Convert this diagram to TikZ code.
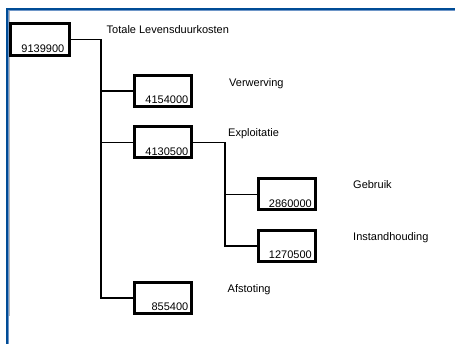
\documentclass[tikz,border=0pt]{standalone}
\usepackage{fontspec}
\setmainfont{Liberation Sans}
\definecolor{frameblue}{RGB}{0,76,150}
\definecolor{framelight}{RGB}{110,150,200}
\begin{document}
\begin{tikzpicture}[x=1pt,y=-1pt,
  font=\fontsize{11}{13}\selectfont,
  costbox/.style={draw=black, line width=3pt, fill=white,
    minimum width=57pt, minimum height=31pt, inner sep=0pt},
  conn/.style={draw=black, line width=1.6pt},
  caption/.style={anchor=base west, inner sep=0pt},
  amount/.style={anchor=base east, inner sep=0pt, xshift=-4.5pt, yshift=4pt}]
\useasboundingbox (0,0) rectangle (455,344);

% page frame
\draw[line width=2pt, frameblue] (7,344) -- (7,9) -- (455,9);
\draw[line width=0.8pt, framelight] (8.6,344) -- (8.6,10.6) -- (455,10.6);
\draw[line width=0.8pt, gray!55] (9.6,316) -- (9.6,11.4);

% cost boxes
\node[costbox, minimum width=59pt, minimum height=32pt] (root) at (40,39.5) {};
\node[costbox] (verw) at (163,91)    {};
\node[costbox] (expl) at (163,142.5) {};
\node[costbox] (gebr) at (286.5,194.5) {};
\node[costbox] (inst) at (286.5,246)   {};
\node[costbox] (afst) at (163,298)   {};

% amounts in the lower right of each box
\node[amount, xshift=-2pt] at (root.south east) {9139900};
\node[amount] at (verw.south east) {4154000};
\node[amount] at (expl.south east) {4130500};
\node[amount] at (gebr.south east) {2860000};
\node[amount] at (inst.south east) {1270500};
\node[amount] at (afst.south east) {855400};

% tree connectors
\coordinate (t1) at (101,39.5);
\coordinate (t2) at (225,142.5);
\draw[conn] (root.east) -- (t1) |- (afst.west);
\draw[conn] (t1 |- verw.west) -- (verw.west);
\draw[conn] (t1 |- expl.west) -- (expl.west);
\draw[conn] (expl.east) -- (t2) |- (inst.west);
\draw[conn] (t2 |- gebr.west) -- (gebr.west);

% captions
\node[caption] (c0) at (106.5,34)  {Totale Levensduurkosten};
\node[caption] (c1) at (229,87)    {Verwerving};
\node[caption] (c2) at (228,136.5) {Exploitatie};
\node[caption] (c3) at (353,189)   {Gebruik};
\node[caption] (c4) at (353,241)   {Instandhouding};
\node[caption] (c5) at (227.5,292.5) {Afstoting};
\end{tikzpicture}
\end{document}
